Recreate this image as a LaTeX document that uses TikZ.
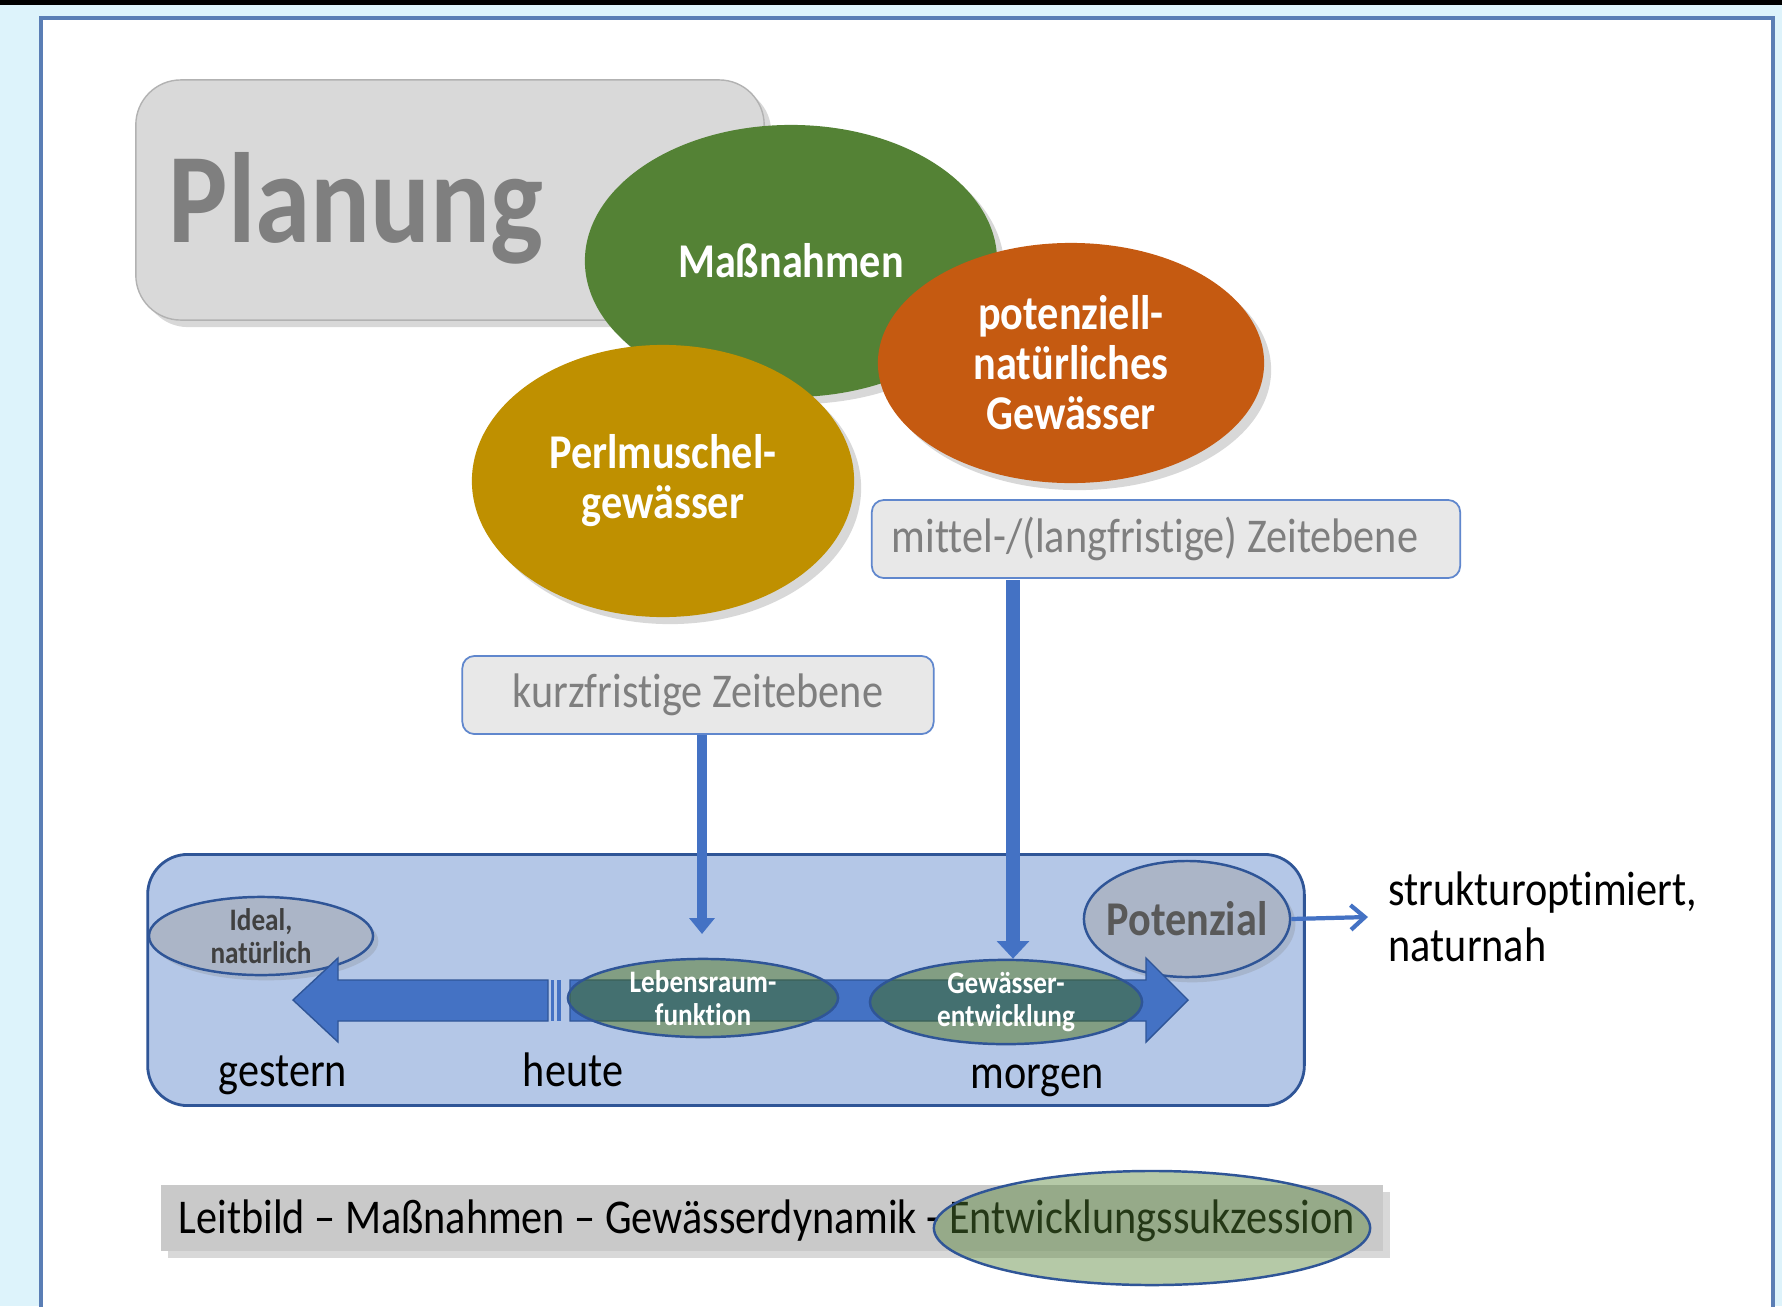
\documentclass[tikz,border=0pt]{standalone}
\usepackage{fontspec}
\setmainfont{Carlito}[FakeStretch=0.87,Ligatures=NoCommon]
\usetikzlibrary{shapes.geometric,shadows,arrows.meta,positioning}

\definecolor{hellblau}{HTML}{DDF3FB}
\definecolor{randblau}{HTML}{5A7EB5}
\definecolor{plangrau}{HTML}{D9D9D9}
\definecolor{textgrau}{HTML}{7F7F7F}
\definecolor{massgruen}{HTML}{548235}
\definecolor{natorange}{HTML}{C55A11}
\definecolor{perlgold}{HTML}{BF9000}
\definecolor{zeitgrau}{HTML}{E8E8E8}
\definecolor{pfeilblau}{HTML}{4472C4}
\definecolor{flaeche}{HTML}{B4C7E7}
\definecolor{dunkelblau}{HTML}{2F5597}
\definecolor{potgrau}{HTML}{ABB5C7}
\definecolor{balken}{HTML}{C9C9C9}
\definecolor{lebgruen}{HTML}{466E0A}

\begin{document}
\begin{tikzpicture}
		[x=0.01cm,y=-0.01cm,
		schatten/.style={drop shadow={opacity=0.3,shadow xshift=2pt,shadow yshift=-2pt}},
		plan box/.style={shape=rectangle,rounded corners=0.45cm,fill=plangrau,draw=gray!60,minimum width=6.28cm,minimum height=2.40cm,schatten},
		plan text/.style={inner sep=0pt,text=textgrau,font=\fontsize{36.5}{40}\selectfont\bfseries},
		bubble/.style={shape=ellipse,inner sep=0pt,text=white,align=center,font=\fontsize{13.8}{14.2}\selectfont\bfseries,schatten},
		zeit box/.style={shape=rectangle,rounded corners=0.12cm,draw=pfeilblau!85,line width=0.5pt,fill=zeitgrau,text=textgrau,minimum height=0.78cm,font=\fontsize{13.8}{16}\selectfont},
		zeit pfeil/.style={draw=pfeilblau,line width=#1},
		klein oval/.style={shape=ellipse,inner sep=0pt,draw=dunkelblau,line width=0.7pt,align=center,font=\fontsize{8.9}{9.4}\selectfont\bfseries},
		grau oval/.style={klein oval,fill=potgrau,text=black!75,drop shadow={opacity=0.25,shadow xshift=1.5pt,shadow yshift=-1.5pt}},
		gruen oval/.style={klein oval,fill=lebgruen,fill opacity=0.45,text opacity=1,text=white},
		zeit text/.style={inner sep=0pt,font=\fontsize{13.8}{16}\selectfont}
		]
		
		\useasboundingbox (0,0) rectangle (1782,1306);
		\clip (0,0) rectangle (1782,1306);
		\fill[hellblau] (0,0) rectangle (1782,1306);
		\fill[black] (0,0) rectangle (1782,5);
		\draw[draw=randblau,line width=1pt,fill=white] (41,18) rectangle (1773,1330);
		
		\node [plan box] (plan) at (450,200) {};
		\node [plan text,anchor=base west] (planlabel) at (168,242) {Planung};
		
		\node [bubble,fill=massgruen,minimum width=4.12cm,minimum height=2.72cm] (mass) at (791,261) {Maßnahmen};
		\node [bubble,fill=natorange,minimum width=3.86cm,minimum height=2.40cm] (nat) at (1071,363) {potenziell-\\natürliches\\Gewässer};
		\node [bubble,fill=perlgold,minimum width=3.82cm,minimum height=2.72cm] (perl) at (663,481) {Perlmuschel-\\gewässer};
		
		\node [zeit box,minimum width=5.88cm,text width=5.48cm,inner xsep=0.2cm,align=flush left] (mittel) at (1166,539) {mittel-/(langfristige) Zeitebene};
		\node [zeit box,minimum width=4.71cm] (kurz) at (698,695) {kurzfristige Zeitebene};
		
		\node [shape=rectangle,rounded corners=0.4cm,fill=flaeche,draw=dunkelblau,line width=0.8pt,minimum width=11.56cm,minimum height=2.51cm] (zeitachse) at (726,980) {};
		
		\node [grau oval,minimum width=2.24cm,minimum height=0.78cm] (ideal) at (261,936) {Ideal,\\natürlich};
		\node [grau oval,inner xsep=-0.3cm,minimum width=2.06cm,minimum height=1.16cm,font=\fontsize{13.8}{16}\selectfont\bfseries,text=black!65] (pot) at (1187,919) {Potenzial};
		
		\filldraw[fill=pfeilblau,draw=dunkelblau,line width=0.4pt]
		(548,980) -- (338,980) -- (338,958) -- (293,1000) -- (338,1042) -- (338,1021) -- (548,1021) -- cycle;
		\fill[pfeilblau] (551,980) rectangle (554,1021);
		\fill[pfeilblau] (557,980) rectangle (561,1021);
		\filldraw[fill=pfeilblau,draw=dunkelblau,line width=0.4pt]
		(570,980) -- (1146,980) -- (1146,958) -- (1188,1000) -- (1146,1042) -- (1146,1021) -- (570,1021) -- cycle;
		
		\node [gruen oval,minimum width=2.70cm,minimum height=0.76cm] (leben) at (703,998) {Lebensraum-\\funktion};
		\node [gruen oval,minimum width=2.72cm,minimum height=0.78cm] (gew) at (1006,1002) {Gewässer-\\entwicklung};
		
		\coordinate (kurzend) at (702,934);
		\coordinate (mittelstart) at (1013,580);
		\draw [zeit pfeil=3pt,-{Triangle[width=7pt,length=4.5pt]}] (kurzend |- kurz.south) -- (kurzend);
		\draw [zeit pfeil=4pt,-{Triangle[width=9pt,length=5pt]}] (mittelstart) -- (mittelstart |- gew.north);
		
		\node [zeit text,anchor=west,align=left,inner xsep=0.2cm] (struk) at (1368,917) {strukturoptimiert,\\naturnah};
		\draw [zeit pfeil=1.2pt,-{Straight Barb[length=4pt,width=7pt]}] (pot.east) -- (struk.west);
		
		\node [zeit text,anchor=base] (gestern) at (283,1086) {gestern};
		\node [zeit text,anchor=base] (heute) at (573,1086) {heute};
		\node [zeit text,anchor=base] (morgen) at (1037,1088) {morgen};
		
		\node [shape=rectangle,fill=balken,minimum width=12.22cm,minimum height=0.66cm,schatten] (leitbild) at (772,1218) {};
		\node [zeit text,anchor=base west] (leittext) at (178,1233) {Leitbild – Maßnahmen – Gewässerdynamik - Entwicklungssukzession};
		\node [shape=ellipse,draw=dunkelblau,line width=0.7pt,fill=massgruen,fill opacity=0.43,minimum width=4.36cm,minimum height=1.14cm] (sukz) at (1152,1228) {};
		
\end{tikzpicture}
\end{document}
